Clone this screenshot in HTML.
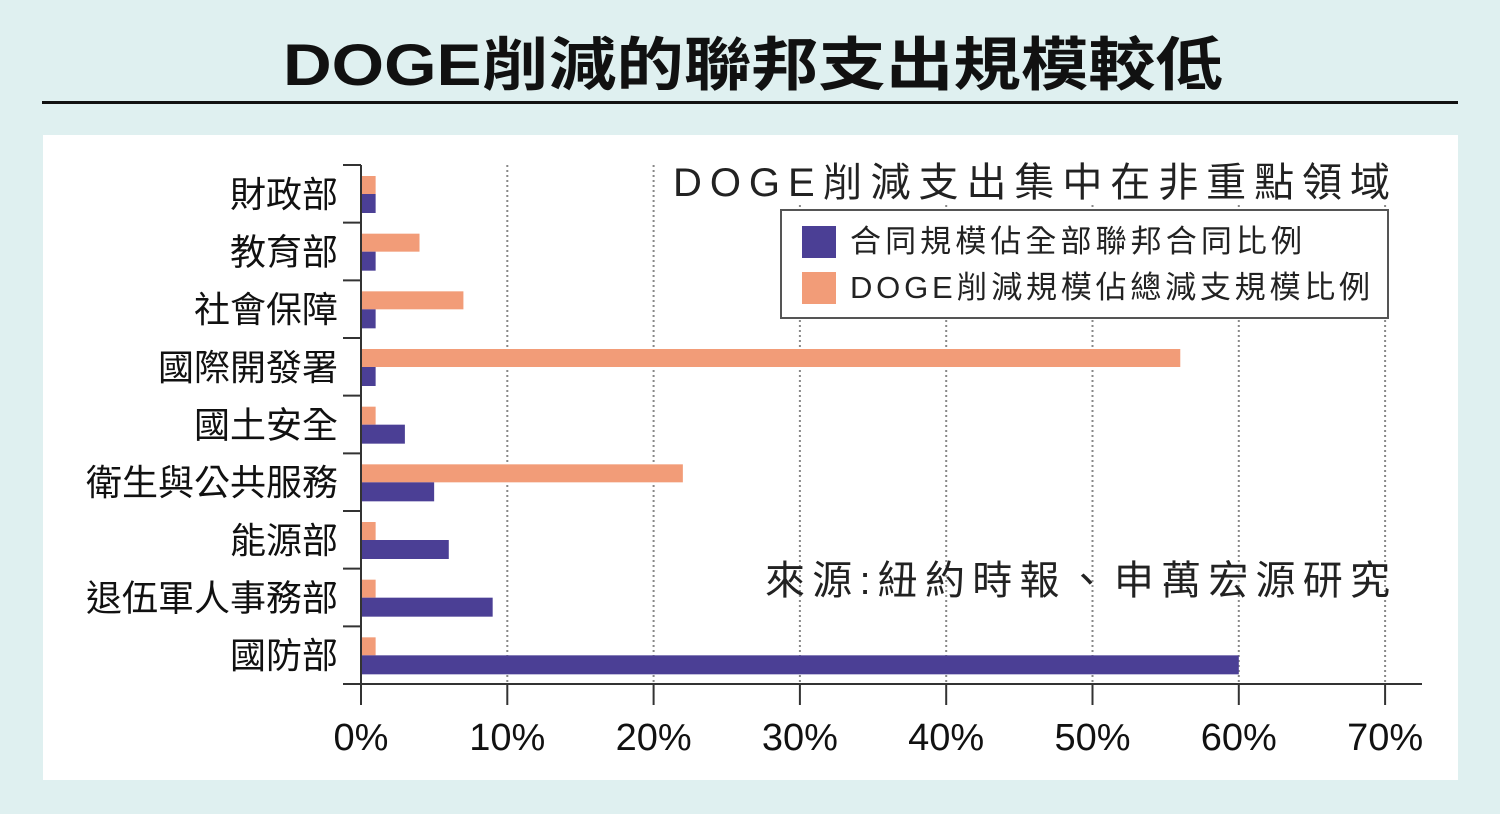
<!DOCTYPE html>
<html><head><meta charset="utf-8"><style>
body{margin:0;width:1500px;height:809px;background:#dff0f0;overflow:hidden;font-family:"Liberation Sans","Noto Sans CJK TC",sans-serif;}
</style></head><body>
<svg width="1500" height="809" xmlns="http://www.w3.org/2000/svg" style="font-family:'Liberation Sans','Noto Sans CJK TC',sans-serif">
<text x="283" y="85" font-size="58" font-weight="bold" textLength="940" lengthAdjust="spacingAndGlyphs" fill="#111">DOGE削減的聯邦支出規模較低</text>
<rect x="42" y="101" width="1416" height="3" fill="#111"/>
<rect x="43" y="135" width="1415" height="645" fill="#fff"/>
<g id="grid"></g>
<g id="bars"></g>
<g id="axes"></g>
<rect x="668" y="160" width="730" height="44" fill="#fff"/>
<text x="673" y="196" font-size="40" textLength="717" lengthAdjust="spacing" fill="#222">DOGE削減支出集中在非重點領域</text>
<g>
<rect x="781" y="210" width="607" height="108" fill="#fff" stroke="#555" stroke-width="2"/>
<rect x="802" y="226" width="34" height="32" fill="#4b3f95"/>
<text x="850" y="252" font-size="31" textLength="452" lengthAdjust="spacing" fill="#222">合同規模佔全部聯邦合同比例</text>
<rect x="802" y="272" width="34" height="32" fill="#f29c78"/>
<text x="850" y="298" font-size="31" textLength="520" lengthAdjust="spacing" fill="#222">DOGE削減規模佔總減支規模比例</text>
</g>
<text x="765" y="594" font-size="40" textLength="625" lengthAdjust="spacing" fill="#222">來源:紐約時報、申萬宏源研究</text>
</svg>
<script>
const categories=["財政部","教育部","社會保障","國際開發署","國土安全","衛生與公共服務","能源部","退伍軍人事務部","國防部"];
const dogeValues=[1,4,7,56,1,22,1,1,1];
const contractValues=[1,1,1,1,3,5,6,9,60];
const tickValues=[0,10,20,30,40,50,60,70];
const tickLabels=["0%","10%","20%","30%","40%","50%","60%","70%"];
const NS="http://www.w3.org/2000/svg";
const x0=361,pxPer=14.63,plotTop=165,plotBottom=684;
const band=(plotBottom-plotTop)/categories.length;
const xs=v=>x0+v*pxPer;
const yb=i=>plotTop+i*band;
function mk(tag,attrs,parent){const e=document.createElementNS(NS,tag);for(const k in attrs)e.setAttribute(k,attrs[k]);document.getElementById(parent).appendChild(e);return e;}
tickValues.forEach((t,i)=>{
 if(t>0){const g=mk('line',{x1:xs(t),x2:xs(t),y1:plotTop,y2:plotBottom,stroke:'#888','stroke-width':2,'stroke-dasharray':'2,3'},'grid');
 
 }
 const tk=mk('line',{x1:xs(t),x2:xs(t),y1:plotBottom,y2:705,stroke:'#333','stroke-width':2},'axes');
 
 
 const lb=mk('text',{x:xs(t),y:750,'font-size':38,'text-anchor':'middle',fill:'#111'},'axes');
 lb.textContent=tickLabels[i];
 
 
});
categories.forEach((c,i)=>{
 const b1=mk('rect',{x:x0,y:yb(i)+11,width:xs(dogeValues[i])-x0,height:18,fill:'#f29c78'},'bars');
 
 
 const b2=mk('rect',{x:x0,y:yb(i)+29,width:xs(contractValues[i])-x0,height:19,fill:'#4b3f95'},'bars');
 
 
 const tk=mk('line',{x1:343,x2:x0,y1:yb(i),y2:yb(i),stroke:'#333','stroke-width':2},'axes');
 
 
 const lb=mk('text',{x:338,y:yb(i)+band/2+13,'font-size':36,'text-anchor':'end',fill:'#111'},'axes');
 lb.textContent=c;
 
 
});
const ya=mk('line',{x1:x0,x2:x0,y1:plotTop,y2:705,stroke:'#333','stroke-width':2},'axes');


const xa=mk('line',{x1:343,x2:1422,y1:plotBottom,y2:plotBottom,stroke:'#333','stroke-width':2},'axes');


</script>
</body></html>
